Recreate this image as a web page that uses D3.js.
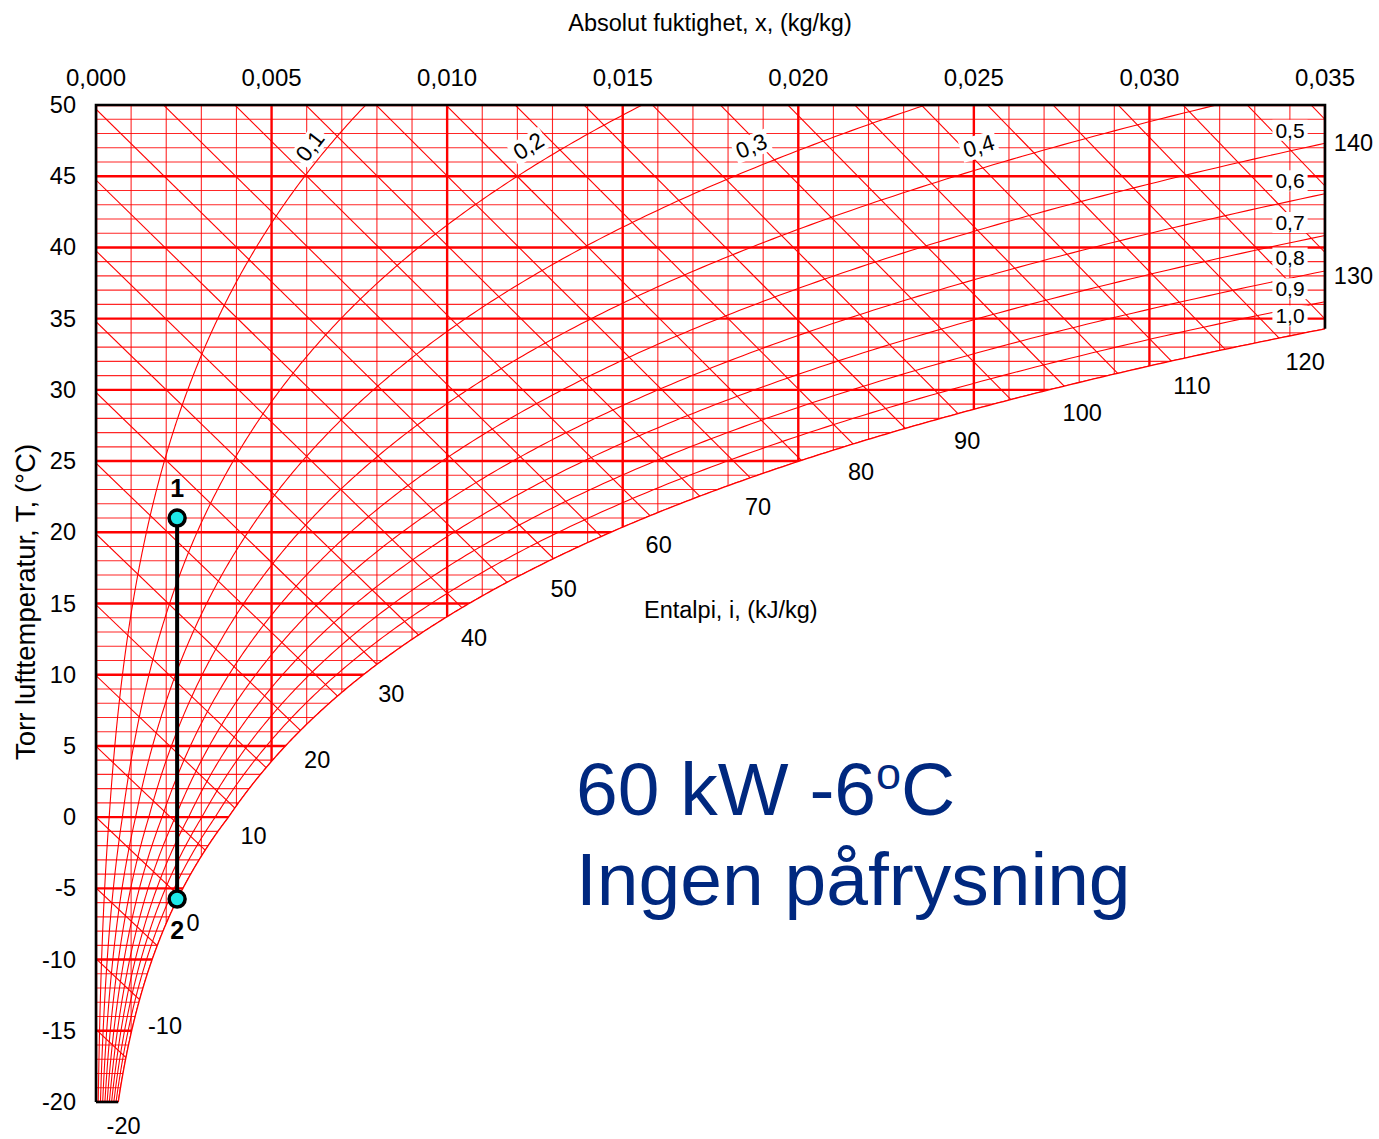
<!DOCTYPE html>
<html><head><meta charset="utf-8">
<script src="https://cdn.jsdelivr.net/npm/d3@7"></script>
<style>
body{margin:0;background:#fff}
svg{display:block}
text{font-family:"Liberation Sans",Arial,sans-serif}
</style>
</head><body>
<svg id="chart" width="1379" height="1139"></svg>
<script>
// ---------------- data ----------------
const humidityTicks = [0, 0.005, 0.010, 0.015, 0.020, 0.025, 0.030, 0.035];
const humidityTickLabels = ["0,000","0,005","0,010","0,015","0,020","0,025","0,030","0,035"];
const temperatureTicks = [50,45,40,35,30,25,20,15,10,5,0,-5,-10,-15,-20];
const temperatureTickLabels = ["50","45","40","35","30","25","20","15","10","5","0","-5","-10","-15","-20"];
const rhLevels = [0.1,0.2,0.3,0.4,0.5,0.6,0.7,0.8,0.9,1.0];
const rhLabels = ["0,1","0,2","0,3","0,4","0,5","0,6","0,7","0,8","0,9","1,0"];
const enthalpyLevels = [-20,-15,-10,-5,0,5,10,15,20,25,30,35,40,45,50,55,60,65,70,75,80,85,90,95,100,105,110,115,120,125,130,135,140];
const enthalpyLabelLevels = [-20,-10,0,10,20,30,40,50,60,70,80,90,100,110,120,130,140];
const processNames = ["1","2"];
const processX = [0.00231, 0.00231];
const processT = [21, -5.75];
const xTitle = "Absolut fuktighet, x, (kg/kg)";
const yTitle = "Torr lufttemperatur, T, (°C)";
const iTitle = "Entalpi, i, (kJ/kg)";
const noteLine1 = ["60 kW -6", "o", "C"];
const noteLine2 = "Ingen påfrysning";

// ---------------- physics ----------------
const P = 101.325;
function psat(T){ return T >= 0 ? 0.61094*Math.exp(17.625*T/(T+243.04)) : 0.61115*Math.exp(22.452*T/(272.55+T)); }
function xOf(phi,T){ const pw = phi*psat(T); return 0.622*pw/(P-pw); }
function xSat(T){ return xOf(1,T); }
function TofI(i,x){ return (i-2501*x)/(1.006+1.86*x); }

// ---------------- scales ----------------
const X = d3.scaleLinear().domain([0,0.035]).range([96,1325]);
const Y = d3.scaleLinear().domain([-20,50]).range([1102,105]);
const xMin = X.domain()[0], xMax = X.domain()[1], tMin = Y.domain()[0], tMax = Y.domain()[1];

const svg = d3.select("#chart");
svg.append("rect").attr("width",1379).attr("height",1139).attr("fill","#fff");

// saturation exit at right edge
let lo=0, hi=tMax;
for(let k=0;k<60;k++){ const m=(lo+hi)/2; if(xSat(m)<xMax) lo=m; else hi=m; }
const tExit = lo;

// region polygon (left of saturation)
const satPts = [];
for(let T=tExit; T>tMin; T-=0.1) satPts.push([xSat(T),T]);
satPts.push([xSat(tMin),tMin]);
const region = [[xMin,tMax],[xMax,tMax],[xMax,tExit]].concat(satPts).concat([[xMin,tMin]]);
const regionLine = d3.line().x(d=>X(d[0])).y(d=>Y(d[1]));

const defs = svg.append("defs");
defs.append("clipPath").attr("id","reg").append("path").attr("d",regionLine(region)+"Z");

const grid = svg.append("g").attr("clip-path","url(#reg)");
const RED = "#ff0000";

// temperature grid
const tGrid = d3.range(tMin, tMax+0.5, 1);
grid.selectAll("line.h").data(tGrid).join("line")
  .attr("x1",X(xMin)).attr("x2",X(xMax)).attr("y1",d=>Y(d)).attr("y2",d=>Y(d))
  .attr("stroke",RED).attr("stroke-width",d=>d%5===0?2.4:1.1).attr("stroke-opacity",d=>d%5===0?1:0.85);
// humidity grid
const xGrid = d3.range(0,36,1);
grid.selectAll("line.v").data(xGrid).join("line")
  .attr("x1",d=>X(d*0.001)).attr("x2",d=>X(d*0.001)).attr("y1",Y(tMin)).attr("y2",Y(tMax))
  .attr("stroke",RED).attr("stroke-width",d=>d%5===0?2.4:1.1).attr("stroke-opacity",d=>d%5===0?1:0.85);

// enthalpy lines
function inRegion(x,T){ return x>=xMin && x<=xMax && T<=tMax && T>=tMin && x<=xSat(T); }
const ends = {};
enthalpyLevels.forEach(i=>{
  let last=null;
  for(let x=0; x<=xMax+1e-9; x+=0.000005){
    const T=TofI(i,x);
    if(inRegion(x,T)){ last=[x,T]; }
  }
  ends[i]=last;
  grid.append("path").attr("d",regionLine([[0,TofI(i,0)],[xMax,TofI(i,xMax)]]))
    .attr("fill","none").attr("stroke",RED).attr("stroke-width",1.1);
});

// RH curves
const tSteps = d3.range(tMin-1, tMax+1.01, 0.2);
rhLevels.forEach(phi=>{
  const pts = tSteps.map(T=>[xOf(phi,T),T]).filter(d=>d[0]<0.06);
  grid.append("path").attr("d",d3.line().curve(d3.curveBasis).x(d=>X(d[0])).y(d=>Y(d[1]))(pts))
    .attr("fill","none").attr("stroke",RED).attr("stroke-width",1.1);
});
// saturation curve edge
svg.append("path").attr("d",regionLine(satPts)).attr("fill","none").attr("stroke",RED).attr("stroke-width",1.3);

// RH labels
const labG = svg.append("g");
rhLevels.forEach((phi,k)=>{
  let cx, cy, ang=0, fs=21;
  if(phi<=0.4){
    const Tl=45.5;
    cx = X(xOf(phi,Tl)); cy = Y(47.1);
    const dx = X(xOf(phi,Tl+0.5))-X(xOf(phi,Tl-0.5));
    const dy = Y(Tl+0.5)-Y(Tl-0.5);
    ang = Math.atan2(dy,dx)*180/Math.PI;
    fs = 22.5;
  } else {
    let a=0,b=tMax;
    for(let n=0;n<60;n++){ const m=(a+b)/2; if(xOf(phi,m)<xMax) a=m; else b=m; }
    cx = X(xMax)-35; cy = Y(a)-13;
  }
  const g = labG.append("g").attr("transform",`translate(${cx},${cy}) rotate(${ang})`);
  const r = g.append("rect").attr("fill","#fff");
  const t = g.append("text").attr("text-anchor","middle").attr("dominant-baseline","central")
    .attr("font-size",fs).attr("fill","#000").text(rhLabels[k]);
  const bb = t.node().getBBox();
  r.attr("x",bb.x-3).attr("y",bb.y+1).attr("width",bb.width+6).attr("height",bb.height-2);
});

// enthalpy labels
enthalpyLabelLevels.forEach(i=>{
  const e = ends[i]; if(!e) return;
  svg.append("text").attr("x",X(e[0])+9).attr("y",Y(e[1])+24)
    .attr("dominant-baseline","central").attr("font-size",23.5).attr("fill","#000").text(String(i));
});

// frame
const frame = [[xMin,tMin],[xMin,tMax],[xMax,tMax],[xMax,tExit]];
svg.append("path").attr("d",regionLine(frame)).attr("fill","none").attr("stroke","#000").attr("stroke-width",2.6);
svg.append("path").attr("d",regionLine([[xMin,tMin],[xSat(tMin),tMin]])).attr("fill","none").attr("stroke","#000").attr("stroke-width",2.6);

// tick labels
svg.selectAll("text.xt").data(humidityTicks).join("text")
  .attr("x",d=>X(d)).attr("y",77).attr("text-anchor","middle").attr("dominant-baseline","central")
  .attr("font-size",24).text((d,k)=>humidityTickLabels[k]);
svg.selectAll("text.yt").data(temperatureTicks).join("text")
  .attr("x",76).attr("y",d=>Y(d)).attr("text-anchor","end").attr("dominant-baseline","central")
  .attr("font-size",23.5).text((d,k)=>temperatureTickLabels[k]);

// titles
svg.append("text").attr("x",710).attr("y",23).attr("text-anchor","middle").attr("dominant-baseline","central")
  .attr("font-size",23.5).text(xTitle);
svg.append("text").attr("transform","translate(25,602) rotate(-90)").attr("text-anchor","middle").attr("dominant-baseline","central")
  .attr("font-size",27.5).text(yTitle);
svg.append("text").attr("x",644).attr("y",610).attr("dominant-baseline","central")
  .attr("font-size",23.5).text(iTitle);

// process
svg.append("line").attr("x1",X(processX[0])).attr("y1",Y(processT[0])).attr("x2",X(processX[1])).attr("y2",Y(processT[1]))
  .attr("stroke","#000").attr("stroke-width",4);
processNames.forEach((n,k)=>{
  svg.append("circle").attr("cx",X(processX[k])).attr("cy",Y(processT[k])).attr("r",8)
    .attr("fill","#1ee8e8").attr("stroke","#000").attr("stroke-width",3.5);
  svg.append("text").attr("x",X(processX[k])).attr("y",Y(processT[k])+(k===0?-30:31))
    .attr("text-anchor","middle").attr("dominant-baseline","central").attr("font-size",25).attr("font-weight","bold").text(n);
});

// note
const NAVY="#00287f";
const t1 = svg.append("text").attr("x",576).attr("y",815).attr("font-size",75).attr("fill",NAVY);
t1.append("tspan").text(noteLine1[0]);
t1.append("tspan").attr("font-size",45).attr("dy",-26).text(noteLine1[1]);
t1.append("tspan").attr("dy",26).text(noteLine1[2]);
svg.append("text").attr("x",576).attr("y",905).attr("font-size",75).attr("fill",NAVY).text(noteLine2);
</script>
</body></html>
